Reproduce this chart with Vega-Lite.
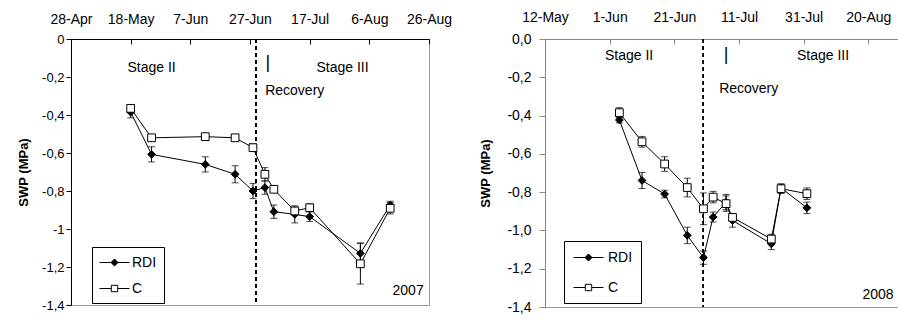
{
  "$schema": "https://vega.github.io/schema/vega-lite/v6.json",
  "padding": {"left": 17, "top": 9, "right": 0, "bottom": 0},
  "spacing": 116,
  "bounds": "flush",
  "config": {
    "font": "Liberation Sans",
    "view": {"stroke": "#999", "strokeWidth": 1},
    "axis": {"grid": false, "labelColor": "black", "titleColor": "black", "domainColor": "black", "tickColor": "black", "domainWidth": 1, "tickWidth": 1}
  },
  "datasets": {
    "d2007": [
      {"date": "2007-05-18", "series": "RDI", "swp": -0.385, "se": 0.03},
      {"date": "2007-05-25", "series": "RDI", "swp": -0.607, "se": 0.04},
      {"date": "2007-06-12", "series": "RDI", "swp": -0.66, "se": 0.04},
      {"date": "2007-06-22", "series": "RDI", "swp": -0.712, "se": 0.045},
      {"date": "2007-06-28", "series": "RDI", "swp": -0.8, "se": 0.04},
      {"date": "2007-07-02", "series": "RDI", "swp": -0.782, "se": 0.035},
      {"date": "2007-07-05", "series": "RDI", "swp": -0.909, "se": 0.035},
      {"date": "2007-07-12", "series": "RDI", "swp": -0.923, "se": 0.045},
      {"date": "2007-07-17", "series": "RDI", "swp": -0.935, "se": 0.025},
      {"date": "2007-08-03", "series": "RDI", "swp": -1.128, "se": 0.055},
      {"date": "2007-08-13", "series": "RDI", "swp": -0.874, "se": 0.02},
      {"date": "2007-05-18", "series": "C", "swp": -0.365, "se": 0.02},
      {"date": "2007-05-25", "series": "C", "swp": -0.52, "se": 0.015},
      {"date": "2007-06-12", "series": "C", "swp": -0.514, "se": 0.015},
      {"date": "2007-06-22", "series": "C", "swp": -0.52, "se": 0.015},
      {"date": "2007-06-28", "series": "C", "swp": -0.572, "se": 0.02},
      {"date": "2007-07-02", "series": "C", "swp": -0.712, "se": 0.035},
      {"date": "2007-07-05", "series": "C", "swp": -0.791, "se": 0.015},
      {"date": "2007-07-12", "series": "C", "swp": -0.905, "se": 0.02},
      {"date": "2007-07-17", "series": "C", "swp": -0.888, "se": 0.02},
      {"date": "2007-08-03", "series": "C", "swp": -1.183, "se": 0.107},
      {"date": "2007-08-13", "series": "C", "swp": -0.891, "se": 0.03}
    ],
    "d2008": [
      {"date": "2008-06-04", "series": "RDI", "swp": -0.423, "se": 0.015},
      {"date": "2008-06-11", "series": "RDI", "swp": -0.739, "se": 0.042},
      {"date": "2008-06-18", "series": "RDI", "swp": -0.81, "se": 0.02},
      {"date": "2008-06-25", "series": "RDI", "swp": -1.026, "se": 0.043},
      {"date": "2008-06-30", "series": "RDI", "swp": -1.142, "se": 0.035},
      {"date": "2008-07-03", "series": "RDI", "swp": -0.93, "se": 0.026},
      {"date": "2008-07-07", "series": "RDI", "swp": -0.852, "se": 0.04},
      {"date": "2008-07-09", "series": "RDI", "swp": -0.948, "se": 0.035},
      {"date": "2008-07-21", "series": "RDI", "swp": -1.07, "se": 0.03},
      {"date": "2008-07-24", "series": "RDI", "swp": -0.778, "se": 0.02},
      {"date": "2008-08-01", "series": "RDI", "swp": -0.882, "se": 0.03},
      {"date": "2008-06-04", "series": "C", "swp": -0.385, "se": 0.026},
      {"date": "2008-06-11", "series": "C", "swp": -0.537, "se": 0.028},
      {"date": "2008-06-18", "series": "C", "swp": -0.653, "se": 0.038},
      {"date": "2008-06-25", "series": "C", "swp": -0.776, "se": 0.049},
      {"date": "2008-06-30", "series": "C", "swp": -0.887, "se": 0.083},
      {"date": "2008-07-03", "series": "C", "swp": -0.826, "se": 0.03},
      {"date": "2008-07-07", "series": "C", "swp": -0.86, "se": 0.04},
      {"date": "2008-07-09", "series": "C", "swp": -0.932, "se": 0.02},
      {"date": "2008-07-21", "series": "C", "swp": -1.045, "se": 0.025},
      {"date": "2008-07-24", "series": "C", "swp": -0.782, "se": 0.025},
      {"date": "2008-08-01", "series": "C", "swp": -0.808, "se": 0.03}
    ],
    "a2007": [
      {"date": "2007-05-25", "v": -0.15, "label": "Stage II"},
      {"date": "2007-07-03", "v": -0.126, "label": "|"},
      {"date": "2007-07-28", "v": -0.15, "label": "Stage III"},
      {"date": "2007-07-12", "v": -0.274, "label": "Recovery"},
      {"date": "2007-08-19", "v": -1.326, "label": "2007"}
    ],
    "a2008": [
      {"date": "2008-06-07", "v": -0.087, "label": "Stage II"},
      {"date": "2008-07-07", "v": -0.081, "label": "|"},
      {"date": "2008-08-06", "v": -0.087, "label": "Stage III"},
      {"date": "2008-07-14", "v": -0.261, "label": "Recovery"},
      {"date": "2008-08-23", "v": -1.339, "label": "2008"}
    ]
  },
  "hconcat": [
    {
      "width": 358,
      "height": 266,
      "encoding": {
        "x": {
          "field": "date", "type": "temporal",
          "scale": {"type": "utc", "nice": false, "domain": [{"year": 2007, "month": 4, "date": 28, "utc": true}, {"year": 2007, "month": 8, "date": 26, "utc": true}]},
          "axis": {
            "orient": "top", "title": null, "labelExpr": "utcFormat(datum.value, '%-d-%b')",
            "values": [
              {"year": 2007, "month": 4, "date": 28, "utc": true},
              {"year": 2007, "month": 5, "date": 18, "utc": true},
              {"year": 2007, "month": 6, "date": 7, "utc": true},
              {"year": 2007, "month": 6, "date": 27, "utc": true},
              {"year": 2007, "month": 7, "date": 17, "utc": true},
              {"year": 2007, "month": 8, "date": 6, "utc": true},
              {"year": 2007, "month": 8, "date": 26, "utc": true}
            ],
            "labelFlush": false, "labelOverlap": false, "tickSize": -5, "labelPadding": 18, "labelFontSize": 14
          }
        },
        "y": {
          "field": "swp", "type": "quantitative",
          "scale": {"domain": [-1.4, 0], "nice": false, "zero": false},
          "axis": {
            "title": "SWP (MPa)", "titleFontSize": 13, "titleFontWeight": "bold", "titlePadding": 11,
            "values": [0, -0.2, -0.4, -0.6, -0.8, -1, -1.2, -1.4],
            "labelExpr": "replace(replace(format(datum.value, '.1~f'), '.', ','), '\u2212', '-')",
            "labelFontSize": 13, "tickSize": 5, "labelPadding": 2
          }
        }
      },
      "layer": [
        {
          "data": {"name": "d2007"},
          "mark": {"type": "rule", "color": "black", "strokeWidth": 1, "strokeDash": [4, 3]},
          "encoding": {"x": {"datum": {"year": 2007, "month": 6, "date": 29, "utc": true}, "type": "temporal"}, "y": null}
        },
        {
          "data": {"name": "d2007"},
          "mark": {"type": "errorbar", "color": "black", "thickness": 1, "ticks": {"size": 7, "color": "black"}},
          "encoding": {"yError": {"field": "se"}, "detail": {"field": "series"}}
        },
        {
          "data": {"name": "d2007"},
          "mark": {"type": "line", "color": "black", "strokeWidth": 1},
          "encoding": {"detail": {"field": "series"}}
        },
        {
          "data": {"name": "d2007"},
          "mark": {"type": "point", "filled": true, "size": 60, "stroke": "black", "strokeWidth": 1, "opacity": 1},
          "encoding": {
            "shape": {"field": "series", "type": "nominal", "scale": {"domain": ["RDI", "C"], "range": ["diamond", "square"]}, "legend": null},
            "fill": {"field": "series", "type": "nominal", "scale": {"domain": ["RDI", "C"], "range": ["black", "white"]}, "legend": null}
          }
        },
        {
          "data": {"name": "d2007"},
          "transform": [{"filter": "false"}],
          "mark": {"type": "point", "filled": true, "strokeWidth": 1, "opacity": 1},
          "encoding": {
            "x": null, "y": null,
            "shape": {"field": "series", "type": "nominal", "scale": {"domain": ["RDI", "C"], "range": ["M-1.875,0H1.875M-0.44,0L0,-0.44L0.44,0L0,0.44Z", "M-1.875,0H-0.4M0.4,0H1.875M-0.4,-0.4H0.4V0.4H-0.4Z"]},
              "legend": {"title": null, "orient": "none", "legendX": 21, "legendY": 208, "padding": 7, "strokeColor": "black", "fillColor": "white", "symbolSize": 256, "symbolStrokeWidth": 1, "symbolOffset": 7, "labelOffset": 9, "labelFontSize": 14, "labelColor": "black", "rowPadding": 10}},
            "fill": {"field": "series", "type": "nominal", "scale": {"domain": ["RDI", "C"], "range": ["black", "white"]},
              "legend": {"title": null, "orient": "none", "legendX": 21, "legendY": 208, "padding": 7, "strokeColor": "black", "fillColor": "white", "symbolSize": 256, "symbolStrokeWidth": 1, "symbolOffset": 7, "labelOffset": 9, "labelFontSize": 14, "labelColor": "black", "rowPadding": 10}},
            "stroke": {"field": "series", "type": "nominal", "scale": {"domain": ["RDI", "C"], "range": ["black", "black"]},
              "legend": {"title": null, "orient": "none", "legendX": 21, "legendY": 208, "padding": 7, "strokeColor": "black", "fillColor": "white", "symbolSize": 256, "symbolStrokeWidth": 1, "symbolOffset": 7, "labelOffset": 9, "labelFontSize": 14, "labelColor": "black", "rowPadding": 10}}
          }
        },
        {
          "data": {"name": "a2007"},
          "transform": [{"filter": "datum.label != '|'"}],
          "mark": {"type": "text", "fontSize": 14, "color": "black", "baseline": "middle", "align": "center"},
          "encoding": {"y": {"field": "v", "type": "quantitative"}, "text": {"field": "label"}}
        },
        {
          "data": {"name": "a2007"},
          "transform": [{"filter": "datum.label == '|'"}],
          "mark": {"type": "text", "fontSize": 18, "color": "black", "baseline": "middle", "align": "center"},
          "encoding": {"y": {"field": "v", "type": "quantitative"}, "text": {"field": "label"}}
        }
      ],
      "resolve": {"scale": {"shape": "independent", "fill": "independent", "stroke": "independent"}}
    },
    {
      "width": 388,
      "height": 268,
      "encoding": {
        "x": {
          "field": "date", "type": "temporal",
          "scale": {"type": "utc", "nice": false, "domain": [{"year": 2008, "month": 5, "date": 12, "utc": true}, {"year": 2008, "month": 9, "date": 9, "utc": true}]},
          "axis": {
            "orient": "top", "title": null, "labelExpr": "utcFormat(datum.value, '%-d-%b')",
            "values": [
              {"year": 2008, "month": 5, "date": 12, "utc": true},
              {"year": 2008, "month": 6, "date": 1, "utc": true},
              {"year": 2008, "month": 6, "date": 21, "utc": true},
              {"year": 2008, "month": 7, "date": 11, "utc": true},
              {"year": 2008, "month": 7, "date": 31, "utc": true},
              {"year": 2008, "month": 8, "date": 20, "utc": true}
            ],
            "labelFlush": false, "labelOverlap": false, "tickSize": -5, "labelPadding": 20, "labelFontSize": 14,
            "domainColor": "#888", "tickColor": "#888"
          }
        },
        "y": {
          "field": "swp", "type": "quantitative",
          "scale": {"domain": [-1.4, 0], "nice": false, "zero": false},
          "axis": {
            "title": "SWP (MPa)", "titleFontSize": 13, "titleFontWeight": "bold", "titlePadding": 14,
            "values": [0, -0.2, -0.4, -0.6, -0.8, -1, -1.2, -1.4],
            "labelExpr": "replace(replace(format(datum.value, '.1f'), '.', ','), '\u2212', '-')",
            "labelFontSize": 14, "tickSize": 6, "labelPadding": 8, "domainColor": "#888", "tickColor": "#888"
          }
        }
      },
      "layer": [
        {
          "data": {"name": "d2008"},
          "mark": {"type": "rule", "color": "black", "strokeWidth": 1, "strokeDash": [4, 3]},
          "encoding": {"x": {"datum": {"year": 2008, "month": 6, "date": 30, "utc": true}, "type": "temporal"}, "y": null}
        },
        {
          "data": {"name": "d2008"},
          "mark": {"type": "errorbar", "color": "black", "thickness": 1, "ticks": {"size": 7, "color": "black"}},
          "encoding": {"yError": {"field": "se"}, "detail": {"field": "series"}}
        },
        {
          "data": {"name": "d2008"},
          "mark": {"type": "line", "color": "black", "strokeWidth": 1},
          "encoding": {"detail": {"field": "series"}}
        },
        {
          "data": {"name": "d2008"},
          "mark": {"type": "point", "filled": true, "size": 60, "stroke": "black", "strokeWidth": 1, "opacity": 1},
          "encoding": {
            "shape": {"field": "series", "type": "nominal", "scale": {"domain": ["RDI", "C"], "range": ["diamond", "square"]}, "legend": null},
            "fill": {"field": "series", "type": "nominal", "scale": {"domain": ["RDI", "C"], "range": ["black", "white"]}, "legend": null}
          }
        },
        {
          "data": {"name": "d2008"},
          "transform": [{"filter": "false"}],
          "mark": {"type": "point", "filled": true, "strokeWidth": 1, "opacity": 1},
          "encoding": {
            "x": null, "y": null,
            "shape": {"field": "series", "type": "nominal", "scale": {"domain": ["RDI", "C"], "range": ["M-1.875,0H1.875M-0.44,0L0,-0.44L0.44,0L0,0.44Z", "M-1.875,0H-0.4M0.4,0H1.875M-0.4,-0.4H0.4V0.4H-0.4Z"]},
              "legend": {"title": null, "orient": "none", "legendX": 19, "legendY": 202, "padding": 8, "strokeColor": "black", "fillColor": "white", "symbolSize": 256, "symbolStrokeWidth": 1, "symbolOffset": 8, "labelOffset": 11, "labelFontSize": 14, "labelColor": "black", "rowPadding": 14}},
            "fill": {"field": "series", "type": "nominal", "scale": {"domain": ["RDI", "C"], "range": ["black", "white"]},
              "legend": {"title": null, "orient": "none", "legendX": 19, "legendY": 202, "padding": 8, "strokeColor": "black", "fillColor": "white", "symbolSize": 256, "symbolStrokeWidth": 1, "symbolOffset": 8, "labelOffset": 11, "labelFontSize": 14, "labelColor": "black", "rowPadding": 14}},
            "stroke": {"field": "series", "type": "nominal", "scale": {"domain": ["RDI", "C"], "range": ["black", "black"]},
              "legend": {"title": null, "orient": "none", "legendX": 19, "legendY": 202, "padding": 8, "strokeColor": "black", "fillColor": "white", "symbolSize": 256, "symbolStrokeWidth": 1, "symbolOffset": 8, "labelOffset": 11, "labelFontSize": 14, "labelColor": "black", "rowPadding": 14}}
          }
        },
        {
          "data": {"name": "a2008"},
          "transform": [{"filter": "datum.label != '|'"}],
          "mark": {"type": "text", "fontSize": 14, "color": "black", "baseline": "middle", "align": "center"},
          "encoding": {"y": {"field": "v", "type": "quantitative"}, "text": {"field": "label"}}
        },
        {
          "data": {"name": "a2008"},
          "transform": [{"filter": "datum.label == '|'"}],
          "mark": {"type": "text", "fontSize": 18, "color": "black", "baseline": "middle", "align": "center"},
          "encoding": {"y": {"field": "v", "type": "quantitative"}, "text": {"field": "label"}}
        }
      ],
      "resolve": {"scale": {"shape": "independent", "fill": "independent", "stroke": "independent"}}
    }
  ]
}
